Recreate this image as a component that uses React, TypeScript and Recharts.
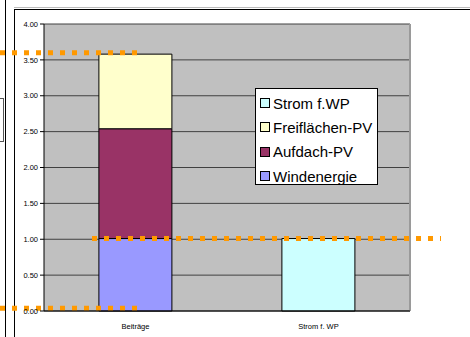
import { BarChart, Bar, XAxis, YAxis, CartesianGrid, ReferenceLine } from "recharts";

const categories = ["Beiträge", "Strom f. WP"];
const windenergie = [1.01, 0];
const aufdachPV = [1.53, 0];
const freiflaechenPV = [1.04, 0];
const stromWP = [0, 1.01];
const yTicks = [0, 0.5, 1, 1.5, 2, 2.5, 3, 3.5, 4];
// dotted markers: total contribution, wind share / heat pump demand, baseline
const markerLevels = [3.6, 1.01, 0.04];

const series = [
  { key: "wind", name: "Windenergie", color: "#9999ff", values: windenergie },
  { key: "dach", name: "Aufdach-PV", color: "#993366", values: aufdachPV },
  { key: "frei", name: "Freiflächen-PV", color: "#ffffcc", values: freiflaechenPV },
  { key: "strom", name: "Strom f.WP", color: "#ccffff", values: stromWP },
];

const data = categories.map((name, i) => {
  const row: Record<string, string | number> = { name };
  series.forEach((s) => (row[s.key] = s.values[i]));
  return row;
});

const FONT = "Arial, 'Liberation Sans', sans-serif";
const ORANGE = "#ff9900";

// horizontal extents of each marker, relative to the plot's left edge
const markerSpans = [
  [-44, 98],
  [48, 397],
  [-44, 93],
];

function LegendBox() {
  const items = [...series].reverse();
  return (
    <div
      style={{
        position: "absolute",
        left: 255,
        top: 88,
        border: "1px solid #000",
        background: "#fff",
        width: 121,
        height: 93,
        fontFamily: FONT,
        fontSize: 15,
        paddingTop: 2,
        overflow: "hidden",
      }}
    >
      {items.map((s) => (
        <div
          key={s.key}
          style={{ display: "flex", alignItems: "center", height: 24.3, paddingLeft: 4, whiteSpace: "nowrap" }}
        >
          <span
            style={{
              display: "inline-block",
              flexShrink: 0,
              width: 8,
              height: 8,
              background: s.color,
              border: "1px solid #000",
              marginRight: 3,
            }}
          />
          <span style={{ color: "#000" }}>{s.name}</span>
        </div>
      ))}
    </div>
  );
}

function CategoryTick(props: any) {
  const { x, y, payload } = props;
  const isWP = payload.value === "Strom f. WP";
  return (
    <g>
      <text x={x} y={y + 10} textAnchor="middle" fontSize={7.5} fontFamily={FONT} fill="#000">
        {payload.value}
      </text>
      {isWP ? (
        <g>
          <line x1={x + 1} x2={x + 1} y1={y + 22} y2={y + 30} stroke="#000" strokeWidth={1} />
          <path d={`M${x - 1.5},${y + 24} L${x + 1},${y + 19} L${x + 3.5},${y + 24} Z`} fill="#000" />
        </g>
      ) : null}
    </g>
  );
}

export default function App() {
  return (
    <div
      style={{
        position: "absolute",
        left: 0,
        top: 0,
        width: 470,
        height: 337,
        overflow: "hidden",
        background: "#fff",
      }}
    >
      <div style={{ position: "absolute", left: 5, top: 0, width: 1, height: 337, background: "#000" }} />
      <div
        style={{
          position: "absolute",
          left: -2,
          top: 98,
          width: 4,
          height: 42,
          border: "1px solid #555",
        }}
      />
      <div
        style={{
          position: "absolute",
          left: 14,
          top: 9,
          width: 500,
          height: 400,
          borderLeft: "1px solid #000",
          borderTop: "1px solid #000",
        }}
      />
      <div style={{ position: "absolute", left: 14, top: 7, width: 460, height: 1, background: "#bbb" }} />
      <div style={{ position: "absolute", left: 0, top: 0 }}>
        <BarChart
          width={470}
          height={337}
          data={data}
          margin={{ top: 24, right: 60, bottom: 0, left: 14 }}
          barCategoryGap="30%"
        >
          <CartesianGrid fill="#c0c0c0" stroke="#404040" vertical={false} />
          <CartesianGrid
            horizontal={false}
            stroke="#9a9a9a"
            strokeWidth={2}
            verticalCoordinatesGenerator={({ offset }: any) => [offset.left + offset.width]}
          />
          <XAxis
            dataKey="name"
            height={26}
            axisLine={{ stroke: "#000" }}
            tickLine={false}
            tick={<CategoryTick />}
            interval={0}
          />
          <YAxis
            width={30}
            domain={[0, 4]}
            ticks={yTicks}
            tickFormatter={(v: number) => v.toFixed(2)}
            axisLine={{ stroke: "#000" }}
            tickLine={{ stroke: "#000" }}
            tickSize={4}
            tickMargin={2}
            tick={{ fontSize: 7.5, fontFamily: FONT, fill: "#000" }}
          />
          {series.map((s) => (
            <Bar
              key={s.key}
              dataKey={s.key}
              name={s.name}
              stackId="a"
              fill={s.color}
              stroke="#000"
              strokeWidth={1}
              isAnimationActive={false}
            />
          ))}
          {markerLevels.map((level, i) => (
            <ReferenceLine
              key={i}
              y={level}
              ifOverflow="visible"
              shape={(p: any) => (
                <line
                  x1={p.x1 + markerSpans[i][0]}
                  x2={p.x1 + markerSpans[i][1]}
                  y1={p.y1}
                  y2={p.y1}
                  stroke={ORANGE}
                  strokeWidth={5}
                  strokeDasharray="5 7"
                />
              )}
            />
          ))}
        </BarChart>
      </div>
      <LegendBox />
    </div>
  );
}
